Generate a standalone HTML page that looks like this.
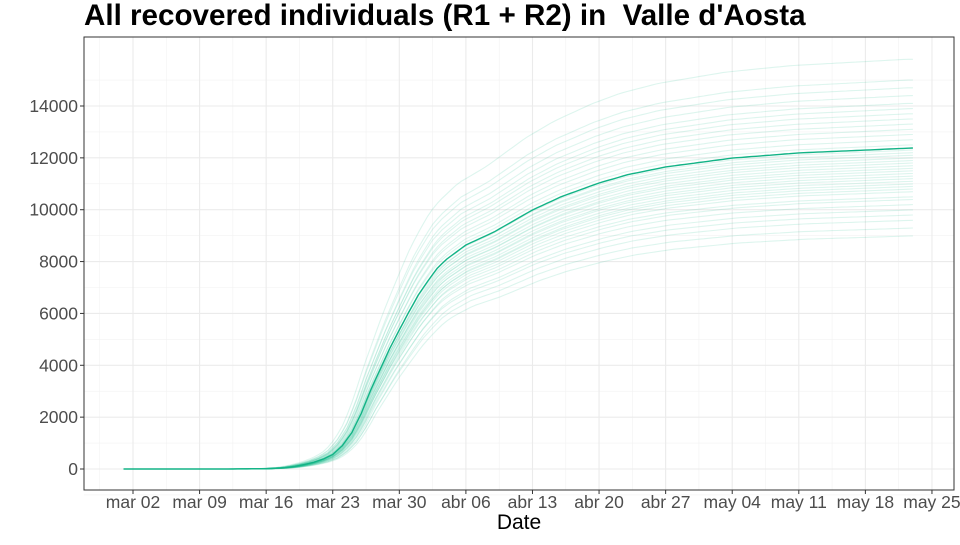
<!DOCTYPE html>
<html><head><meta charset="utf-8"><style>
body{margin:0;background:#fff;font-family:"Liberation Sans",sans-serif}
</style></head><body>
<svg id="c" width="960" height="540" xmlns="http://www.w3.org/2000/svg"></svg>
<script>
// main series: day offset from 2020-02-27 and value
const mainDays=[3,14,18,20,21,22,23,24,25,26,27,28,29,30,31,32,33,34,35,36,37,39,42,46,49,53,56,60,67,74,81,86];
const mainVals=[0,0,10,50,100,170,260,380,560,900,1400,2150,3050,3850,4650,5360,6050,6710,7250,7750,8100,8640,9150,9990,10500,11030,11350,11650,11990,12190,12300,12380];
// ensemble lines: final value and timing shift (days)
const ensFinal=[9000,9300,9600,9800,10000,10200,10400,10500,10700,10800,10900,11000,11100,11200,11300,11400,11500,11600,11700,11800,11900,12000,12100,12200,12300,12500,12700,12900,13100,13300,13500,13700,13900,14100,14400,14700,15000,15800];
const ensShift=[0.7,0.5,0.6,0.3,0.5,0.2,0.4,0.1,0.4,0.2,0.1,0.3,0.2,0.0,0.2,0.1,-0.1,0.2,0.1,-0.1,0.1,0.0,-0.2,0.1,-0.1,-0.2,-0.1,-0.3,-0.2,-0.4,-0.3,-0.4,-0.3,-0.5,-0.4,-0.6,-0.6,-0.8];
const yTicks=[0,2000,4000,6000,8000,10000,12000,14000];
const xTickLabels=["mar 02","mar 09","mar 16","mar 23","mar 30","abr 06","abr 13","abr 20","abr 27","may 04","may 11","may 18","may 25"];
const xTickDays=[4,11,18,25,32,39,46,53,60,67,74,81,88];

const NS="http://www.w3.org/2000/svg",svg=document.getElementById('c');
const L=84,R=954,T=37,B=490;
const x=d=>133+(d-4)*(66.58/7);
const y=v=>469-v*(363/14000);
function el(t,a,p){const e=document.createElementNS(NS,t);for(const k in a)e.setAttribute(k,a[k]);(p||svg).appendChild(e);return e;}
function interp(d){if(d<=mainDays[0])return mainVals[0];for(let i=1;i<mainDays.length;i++){if(d<=mainDays[i]){const t=(d-mainDays[i-1])/(mainDays[i]-mainDays[i-1]);return mainVals[i-1]+t*(mainVals[i]-mainVals[i-1]);}}return mainVals[mainVals.length-1];}
const bg=el('rect',{x:L,y:T,width:R-L,height:B-T,fill:'#fff'});


for(let i=0;i<yTicks.length;i++){const v=yTicks[i]+1000;if(y(v)>T)el('line',{x1:L,x2:R,y1:y(v),y2:y(v),stroke:'#f2f2f2','stroke-width':0.6});}
el('line',{x1:L,x2:R,y1:y(-1000),y2:y(-1000),stroke:'#f2f2f2','stroke-width':0.6});
for(let i=0;i<xTickDays.length;i++){const d=xTickDays[i]-3.5;el('line',{x1:x(d),x2:x(d),y1:T,y2:B,stroke:'#f2f2f2','stroke-width':0.6});}
const gy=el('g',{});
yTicks.forEach(v=>{el('line',{x1:L,x2:R,y1:y(v),y2:y(v),stroke:'#ebebeb','stroke-width':1.1});
el('line',{x1:L-4,x2:L,y1:y(v),y2:y(v),stroke:'#333'},gy);
const t=el('text',{x:L-6,y:y(v)+6,'text-anchor':'end','font-size':17.5,fill:'#4d4d4d'},gy);t.textContent=v;});
const gx=el('g',{});
xTickDays.forEach((d,i)=>{el('line',{x1:x(d),x2:x(d),y1:T,y2:B,stroke:'#ebebeb','stroke-width':1.1});
el('line',{x1:x(d),x2:x(d),y1:B,y2:B+4,stroke:'#333'},gx);
const t=el('text',{x:x(d),y:B+18,'text-anchor':'middle','font-size':17.5,fill:'#4d4d4d'},gx);t.textContent=xTickLabels[i];});
const ge=el('g',{});
const fin=mainVals[mainVals.length-1];
ensFinal.forEach((f,k)=>{let pts=[];for(let d=3;d<=86;d+=0.5){const v=interp(d-ensShift[k])*f/fin;pts.push(x(d).toFixed(1)+','+y(v).toFixed(1));}
const p=el('polyline',{points:pts.join(' '),fill:'none',stroke:'#1dbf8f','stroke-opacity':0.15,'stroke-width':1.1,'stroke-linejoin':'round'},ge);});
let mp=[];for(let d=3;d<=86;d+=0.5)mp.push(x(d).toFixed(1)+','+y(interp(d)).toFixed(1));
const m=el('polyline',{points:mp.join(' '),fill:'none',stroke:'#12b386','stroke-width':1.4,'stroke-linejoin':'round'});

el('rect',{x:L,y:T,width:R-L,height:B-T,fill:'none',stroke:'#333','stroke-width':1});
const xt=el('text',{x:519,y:529,'text-anchor':'middle','font-size':21,fill:'#000'});xt.textContent='Date';
const tt=el('text',{x:84,y:25,'font-size':29.6,'font-weight':'bold',fill:'#000'});tt.textContent="All recovered individuals (R1 + R2) in  Valle d'Aosta";tt.style.whiteSpace='pre';
</script>
</body></html>
